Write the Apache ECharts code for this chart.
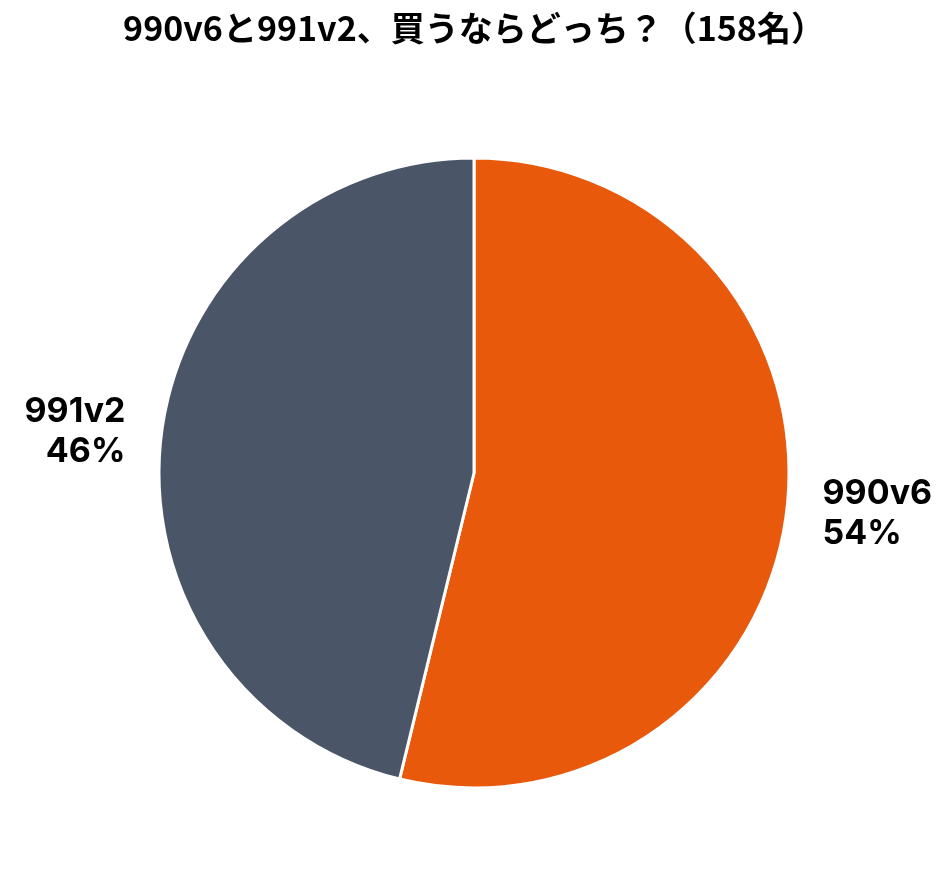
<!DOCTYPE html>
<html>
<head>
<meta charset="utf-8">
<script src="https://cdn.jsdelivr.net/npm/echarts@6/dist/echarts.min.js"></script>
<style>
  html, body { margin: 0; padding: 0; background: #fff; }
  #main { width: 948px; height: 885px; }
</style>
</head>
<body>
<div id="main"></div>
<script>
const titleText = '990v6と991v2、買うならどっち？（158名）'
const categories = ['990v6', '991v2']
const counts = [85, 73]
const colors = ['#E8590C', '#4A5568']

const chart = echarts.init(document.getElementById('main'))
const option = {
  animation: false,
  title: {
    text: titleText,
    left: 'center',
    top: 6,
    textStyle: {
      fontFamily: 'Noto Sans CJK JP',
      fontWeight: 'bold',
      fontSize: 34,
      color: '#000'
    }
  },
  series: [{
    type: 'pie',
    center: [474, 473],
    radius: 315,
    startAngle: 90,
    clockwise: true,
    percentPrecision: 0,
    avoidLabelOverlap: false,
    itemStyle: {
      borderColor: '#fff',
      borderWidth: 3
    },
    label: {
      show: true,
      position: 'outside',
      formatter: '{b}\n{d}%',
      fontFamily: 'Inter, sans-serif',
      fontWeight: 'bold',
      fontSize: 34,
      lineHeight: 40,
      color: '#000',
      distanceToLabelLine: 5
    },
    labelLine: {
      show: false,
      length: 31,
      length2: 0
    },
    data: categories.map((name, i) => ({
      name: name,
      value: counts[i],
      itemStyle: { color: colors[i] }
    }))
  }]
}
chart.setOption(option)
</script>
</body>
</html>
